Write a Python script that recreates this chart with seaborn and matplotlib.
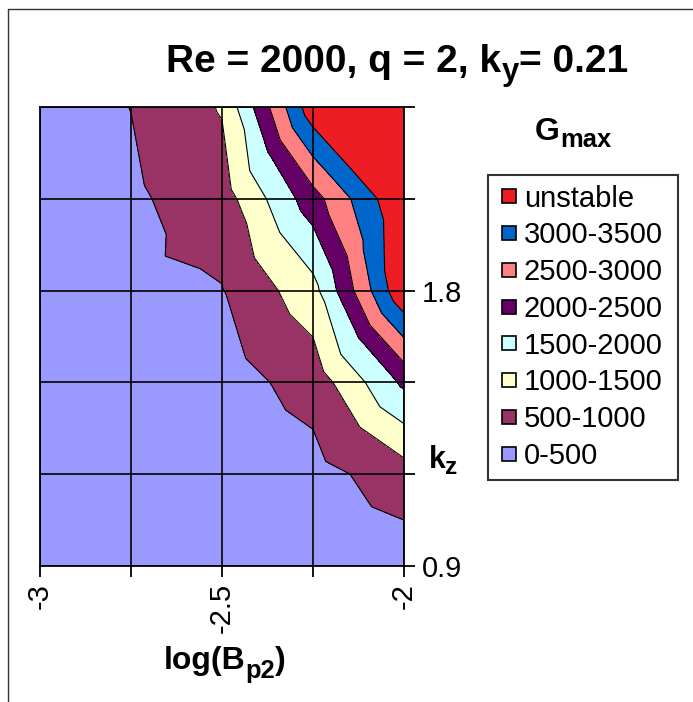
import numpy as np
import pandas as pd
import matplotlib
matplotlib.use("Agg")
import matplotlib.pyplot as plt
import matplotlib.tri as mtri
from matplotlib.lines import Line2D
import seaborn as sns

# Grid of the G_max table: columns are log(B_p2), rows are k_z
log_bp2 = [-3.0, -2.75, -2.5, -2.25, -2.0]
kz = [0.9, 1.2, 1.5, 1.8, 2.1, 2.4]
gmax_kz09 = [50, 100, 150, 250, 235]
gmax_kz12 = [80, 150, 200, 318, 765]
gmax_kz15 = [120, 250, 288, 690, 2100]
gmax_kz18 = [200, 433, 480, 1320, 3950]
gmax_kz21 = [250, 425, 750, 2290, 4000]
gmax_kz24 = [300, 505, 1040, 3838, 5500]

band_edges = [0, 500, 1000, 1500, 2000, 2500, 3000, 3500, 10000]
band_labels = ["0-500", "500-1000", "1000-1500", "1500-2000",
               "2000-2500", "2500-3000", "3000-3500", "unstable"]
band_colors = ["#9999FF", "#993366", "#FFFFCC", "#CCFFFF",
               "#660066", "#FF8080", "#0066CC", "#EE1D23"]
x_ticklabels = ["-3", "", "-2.5", "", "-2"]
y_ticklabels = ["0.9", "", "", "1.8", "", ""]

table = pd.DataFrame([gmax_kz09, gmax_kz12, gmax_kz15, gmax_kz18, gmax_kz21, gmax_kz24],
                     index=kz, columns=log_bp2)

sns.set_style("white")
plt.rcParams["font.family"] = ["Liberation Sans", "DejaVu Sans"]
plt.rcParams["text.color"] = "black"
plt.rcParams["axes.labelcolor"] = "black"
plt.rcParams["xtick.color"] = "black"
plt.rcParams["ytick.color"] = "black"

# Surface-style triangulation: each cell split into four triangles around its centre
nx, ny = len(log_bp2), len(kz)
X, Y = np.meshgrid(log_bp2, kz)
Z = table.values.astype(float)
px, py, pv = list(X.ravel()), list(Y.ravel()), list(Z.ravel())
triangles = []
for i in range(ny - 1):
    for j in range(nx - 1):
        bl = i * nx + j
        br = bl + 1
        tl = (i + 1) * nx + j
        tr = tl + 1
        c = len(px)
        px.append((X[i, j] + X[i, j + 1]) / 2)
        py.append((Y[i, j] + Y[i + 1, j]) / 2)
        pv.append(Z[i:i + 2, j:j + 2].mean())
        triangles += [(bl, br, c), (br, tr, c), (tr, tl, c), (tl, bl, c)]
tri = mtri.Triangulation(px, py, triangles)

W, H = 693, 702
fig = plt.figure(figsize=(W / 100, H / 100), dpi=100)
ax = fig.add_axes([40 / W, 1 - 566 / H, 364 / W, 459 / H])

ax.tricontourf(tri, pv, levels=band_edges, colors=band_colors, zorder=1)
ax.tricontour(tri, pv, levels=band_edges[1:-1], colors="black", linewidths=0.8, zorder=2)

ax.set_xlim(log_bp2[0], log_bp2[-1])
ax.set_ylim(kz[0], kz[-1])
ax.set_xticks(log_bp2)
ax.set_xticklabels(x_ticklabels, rotation=90)
ax.yaxis.tick_right()
ax.set_yticks(kz)
ax.set_yticklabels(y_ticklabels)
ax.set_axisbelow(False)
ax.grid(True, color="black", linewidth=1.4, alpha=0.85)
ax.tick_params(axis="x", bottom=True, top=False, direction="out", length=8, width=1.3,
               colors="black", labelsize=21, pad=4)
ax.tick_params(axis="y", right=True, left=False, direction="out", length=8, width=1.3,
               colors="black", labelsize=21, pad=5)
for s in ax.spines.values():
    s.set_color("black")
    s.set_linewidth(1.3)

renderer = fig.canvas.get_renderer()


def rich_label(x_px, base_px, parts, size, sub_scale=0.8, sub_drop=7):
    """Bold label made of normal and subscript runs, centred on x_px."""
    runs = []
    for s, is_sub in parts:
        fs = size * sub_scale if is_sub else size
        t = fig.text(0, 0, s, fontsize=fs, fontweight="bold", color="black",
                     ha="left", va="baseline")
        runs.append((t, t.get_window_extent(renderer=renderer).width, is_sub))
    x = x_px - sum(w for _, w, _ in runs) / 2
    for t, w, is_sub in runs:
        yb = base_px + (sub_drop if is_sub else 0)
        t.set_position((x / W, 1 - yb / H))
        x += w


rich_label(397, 72, [("Re = 2000, q = 2, k", False), ("y", True), ("= 0.21", False)],
           28, sub_scale=0.8, sub_drop=8)
rich_label(225, 669, [("log(B", False), ("p2", True), (")", False)], 23, sub_drop=9)
rich_label(443, 468, [("k", False), ("z", True)], 22, sub_drop=6)
rich_label(573, 140, [("G", False), ("max", True)], 23, sub_drop=7)

handles = [Line2D([], [], marker="s", linestyle="none", markersize=10,
                  markerfacecolor=c, markeredgecolor="black", markeredgewidth=1.2)
           for c in band_colors[::-1]]
leg = fig.legend(handles, band_labels[::-1], loc="upper left", mode="expand",
                 bbox_to_anchor=(488 / W, 1 - 483 / H, 190 / W, 308 / H),
                 frameon=True, fancybox=False,
                 edgecolor="black", fontsize=21, handlelength=0.8, handletextpad=0.1,
                 labelspacing=0.3, borderpad=0.33, borderaxespad=0, labelcolor="black")
leg.get_frame().set_linewidth(1.5)

# Outer frame of the chart area
fig.add_artist(Line2D([8 / W, 8 / W], [0, 1 - 9 / H], color="#333333", linewidth=1))
fig.add_artist(Line2D([8 / W, 1], [1 - 9 / H, 1 - 9 / H], color="#333333", linewidth=1))

fig.savefig("out.png", dpi=100)
